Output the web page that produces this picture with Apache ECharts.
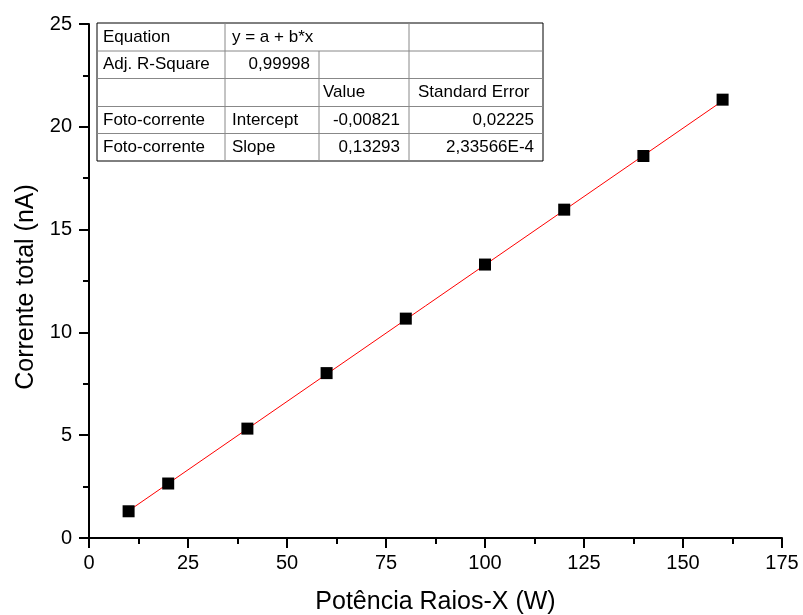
<!DOCTYPE html>
<html>
<head>
<meta charset="utf-8">
<script src="https://cdn.jsdelivr.net/npm/echarts@6/dist/echarts.min.js"></script>
<style>
  html, body { margin: 0; padding: 0; background: #fff; }
  #chart { width: 803px; height: 615px; }
</style>
</head>
<body>
<div id="chart"></div>
<script>
const power = [10, 20, 40, 60, 80, 100, 120, 140, 160];
const current = [1.30, 2.65, 5.32, 8.02, 10.67, 13.30, 15.97, 18.58, 21.32];

// linear fit end points
const fitX = [10, 160];
const fitY = [1.321, 21.261];

// fit summary table, row by row
const tableRows = [
    ['Equation', 'y = a + b*x', '', ''],
    ['Adj. R-Square', '0,99998', '', ''],
    ['', '', 'Value', 'Standard Error'],
    ['Foto-corrente', 'Intercept', '-0,00821', '0,02225'],
    ['Foto-corrente', 'Slope', '0,13293', '2,33566E-4'],
];

const font = 'Arial, "Liberation Sans", sans-serif';

const chart = echarts.init(document.getElementById('chart'), null, { renderer: 'canvas' });

// table layout
const colX = [97, 225, 319, 409, 543];
const rowY = [23, 51, 78.5, 106.5, 133.5, 161];
const padLeft = [6, 7, 4, 9];
const rightAligned = (r, c) => (r === 1 && c === 1) || (r >= 3 && c >= 2);

const tableEls = [];
tableEls.push({
    type: 'rect',
    shape: { x: colX[0], y: rowY[0], width: colX[4] - colX[0], height: rowY[5] - rowY[0] },
    style: { fill: '#fff', stroke: '#000', lineWidth: 1 },
    z: 10,
});
for (let r = 1; r < 5; r++) {
    tableEls.push({
        type: 'line',
        shape: { x1: colX[0], y1: rowY[r], x2: colX[4], y2: rowY[r] },
        style: { stroke: '#888', lineWidth: 1 },
        z: 11,
    });
}
for (let c = 1; c < 4; c++) {
    for (let r = 0; r < 5; r++) {
        if (r === 0 && c === 2) continue;
        tableEls.push({
            type: 'line',
            shape: { x1: colX[c], y1: rowY[r], x2: colX[c], y2: rowY[r + 1] },
            style: { stroke: '#888', lineWidth: 1 },
            z: 11,
        });
    }
}
tableRows.forEach((row, r) => {
    row.forEach((txt, c) => {
        if (!txt) return;
        const right = rightAligned(r, c);
        tableEls.push({
            type: 'text',
            x: right ? colX[c + 1] - 9 : colX[c] + padLeft[c],
            y: (rowY[r] + rowY[r + 1]) / 2,
            style: {
                text: txt,
                font: '17px ' + font,
                fill: '#000',
                align: right ? 'right' : 'left',
                verticalAlign: 'middle',
            },
            z: 12,
        });
    });
});

const axisCommon = {
    axisLine: { show: true, lineStyle: { color: '#000', width: 2 } },
    axisTick: { show: true, inside: false, length: 10, lineStyle: { color: '#000', width: 2 } },
    minorTick: { show: true, splitNumber: 2, length: 6, lineStyle: { color: '#000', width: 2 } },
    splitLine: { show: false },
    nameLocation: 'middle',
};

chart.setOption({
    animation: false,
    backgroundColor: '#fff',
    grid: { left: 89, right: 21, top: 24, bottom: 77, containLabel: false, outerBoundsMode: 'none' },
    xAxis: Object.assign({}, axisCommon, {
        type: 'value',
        min: 0,
        max: 175,
        interval: 25,
        axisLabel: { color: '#000', fontSize: 20, fontFamily: font, margin: 15 },
        name: 'Potência Raios-X (W)',
        nameGap: 52,
        nameTextStyle: { color: '#000', fontSize: 25, fontFamily: font },
    }),
    yAxis: Object.assign({}, axisCommon, {
        type: 'value',
        min: 0,
        max: 25,
        interval: 5,
        axisLabel: { color: '#000', fontSize: 20, fontFamily: font, margin: 17 },
        name: 'Corrente total (nA)',
        nameGap: 50,
        nameTextStyle: { color: '#000', fontSize: 25, fontFamily: font, padding: [0, 12, 0, 0] },
    }),
    series: [
        {
            type: 'line',
            data: fitX.map((x, i) => [x, fitY[i]]),
            showSymbol: false,
            lineStyle: { color: '#ff0000', width: 1 },
            z: 2,
        },
        {
            type: 'scatter',
            data: power.map((x, i) => [x, current[i]]),
            symbol: 'rect',
            symbolSize: 12,
            itemStyle: { color: '#000', opacity: 1 },
            z: 3,
        },
    ],
    graphic: tableEls,
});

window.addEventListener('resize', chart.resize);
</script>
</body>
</html>
